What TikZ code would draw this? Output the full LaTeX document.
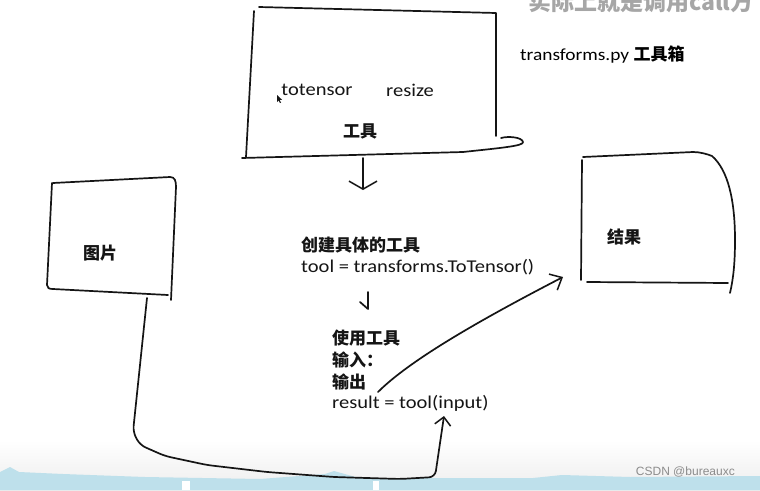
\documentclass[tikz,border=0pt]{standalone}
\usepackage{fontspec}
\usepackage{xcolor}
\usetikzlibrary{arrows.meta}
\setmainfont{Carlito}[FakeStretch=1.14]
\newfontfamily\cjkfont{Noto Sans CJK SC}
\newfontfamily\markfont{Liberation Sans}
\definecolor{sketchink}{HTML}{151515}
\definecolor{sketchwave}{HTML}{BEE0EB}
\definecolor{sketchgray}{HTML}{A6A6A6}
\newcommand{\canvasbox}{(0,0) rectangle (760,490)}

\begin{document}
\begin{tikzpicture}[x=1pt, y=-1pt,
  inkline/.style={draw=sketchink, line width=1.7pt, line join=round, line cap=round},
  boldcjk/.style={font=\cjkfont\bfseries\fontsize{17}{19}\selectfont, text=sketchink, inner sep=0pt},
  handtext/.style={font=\fontsize{18}{20}\selectfont, text=sketchink, inner sep=0pt},
  barbtip/.style 2 args={-{Straight Barb[length=#1, width=#2, line width=1.5pt]}}]

  \useasboundingbox \canvasbox;
  \clip \canvasbox;
  \fill[white] \canvasbox;

  %% bottom strip of the video frame
  \shade[top color=white, bottom color=black!7] (0,440) rectangle (760,490);
  \fill[sketchwave] (0,490) -- (0,472) -- (10,467) -- (19,472) -- (63,474) -- (145,477)
    -- (260,479) -- (325,474) -- (334,471) -- (359,478) -- (533,478) -- (562,475)
    -- (630,477) -- (760,476) -- (760,490) -- cycle;
  \fill[white] (182,481) rectangle (190,490);
  \fill[white] (373,481) rectangle (379,490);

  %% caption cut off at the top
  \node[font=\cjkfont\bfseries\fontsize{23}{25}\selectfont, text=sketchgray, anchor=west,
    inner sep=0pt] (topcaption) at (528,2) {实际上就是调用call方};

  %% tool box
  \draw[inkline] (254,11) -- (246,157);
  \draw[inkline] (259,7) -- (496,13) -- (496,136);
  \draw[inkline] (242,158) -- (463,152) .. controls (500,148) and (524,146) .. (523,142)
    .. controls (522,137) and (508,136) .. (501,138);
  \node[handtext] (totensor) at (317,90) {totensor};
  \node[handtext] (resize) at (410,90) {resize};
  \node[boldcjk] (gongju) at (360,131) {工具};
  \fill[sketchink] (277,95) -- (277,102) -- (278.6,100.4) -- (280,103) -- (281,102.5)
    -- (279.7,100) -- (282,99.7) -- cycle;
  \node[anchor=west, inner sep=0pt] (toolbox) at (520,55)
    {\fontsize{17}{19}\selectfont transforms.py {\cjkfont\bfseries 工具箱}};

  %% picture box
  \draw[inkline] (53,183) -- (170,177) .. controls (175,177) and (176,181) .. (176,187) -- (171,300);
  \draw[inkline] (52,183) -- (47,285) .. controls (47,288) and (49,289) .. (53,289) -- (168,295);
  \node[boldcjk] (tupian) at (100,253) {图片};

  %% result box
  \draw[inkline] (583,157) -- (693,152) .. controls (700,152) and (707,154) .. (712,156)
    .. controls (728,170) and (735,200) .. (735,240) .. controls (735,265) and (733,280) .. (730,293);
  \draw[inkline] (582,160) -- (581,280);
  \draw[inkline] (587,282) -- (728,283);
  \node[boldcjk] (jieguo) at (624,237) {结果};

  %% middle steps
  \node[boldcjk, anchor=west] (create) at (301,245) {创建具体的工具};
  \node[handtext, anchor=west] (toolline) at (301,267) {tool = transforms.ToTensor()};
  \node[boldcjk, anchor=west] (useit) at (332,338) {使用工具};
  \node[boldcjk, anchor=west] (inputline) at (332,360) {输入：};
  \node[boldcjk, anchor=west] (outputline) at (332,382) {输出};
  \node[handtext, anchor=west] (resultline) at (332,403) {result = tool(input)};

  %% connectors
  \coordinate (toolsbottom) at (363,158);
  \coordinate (toolsdown) at (363,190);
  \coordinate (stepfrom) at (368,292);
  \coordinate (stepto) at (368,309);
  \coordinate (outstart) at (378,392);
  \coordinate (resultin) at (563,277);
  \coordinate (picout) at (147,298);
  \coordinate (inputin) at (444,416);

  \draw[inkline, barbtip={8pt}{28pt}] (toolsbottom) -- (toolsdown);
  \draw[inkline] (stepfrom) -- (stepto) -- (360,302);
  \draw[inkline, barbtip={10pt}{18pt}] (outstart) .. controls (410,360) and (480,320) .. (resultin);
  \draw[inkline, rounded corners=6pt, barbtip={8pt}{16pt}] (picout) -- (133,432) -- (140,445)
    -- (165,456) -- (207,465) -- (267,472) -- (334,477) -- (400,479) -- (435,477) -- (inputin);

  %% watermark
  \node[font=\markfont\fontsize{12}{14}\selectfont, text=black!45, anchor=east,
    inner sep=0pt] (watermark) at (735,472) {CSDN @bureauxc};

\end{tikzpicture}
\end{document}
